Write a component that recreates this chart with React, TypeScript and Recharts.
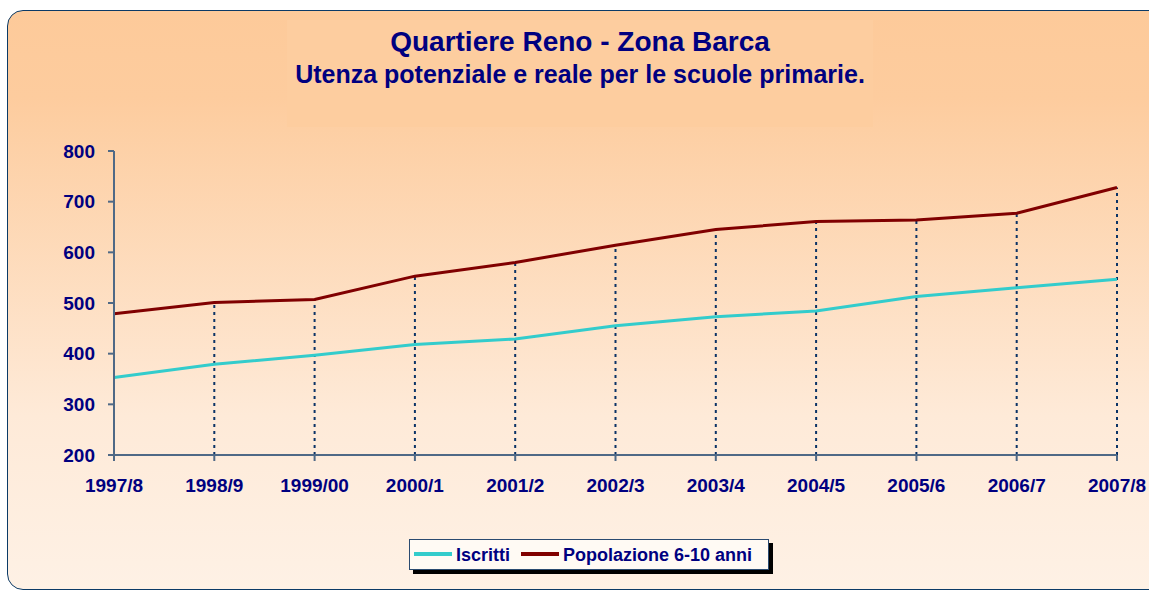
import React from 'react';
import { LineChart, Line, XAxis, YAxis, ReferenceLine } from 'recharts';

const years = ['1997/8', '1998/9', '1999/00', '2000/1', '2001/2', '2002/3', '2003/4', '2004/5', '2005/6', '2006/7', '2007/8'];
const iscritti = [353, 379, 397, 418, 429, 455, 473, 484, 513, 530, 547];
const popolazione = [479, 501, 507, 553, 580, 614, 645, 661, 664, 677, 728];
const yTicks = [200, 300, 400, 500, 600, 700, 800];

const NAVY = '#000080';
const AXIS = '#4f6986';
const FONT = "'Liberation Sans', Arial, sans-serif";

const data = years.map((year, i) => ({ year, iscritti: iscritti[i], popolazione: popolazione[i] }));

const series = [
  { key: 'iscritti', name: 'Iscritti', color: '#33CCCC' },
  { key: 'popolazione', name: 'Popolazione 6-10 anni', color: '#800000' },
];

export default function App() {
  return (
    <div style={{ position: 'fixed', left: 0, top: 0, width: 1149, height: 591, overflow: 'hidden', fontFamily: FONT, background: '#fff' }}>
      {/* rounded panel with the orange fade */}
      <div
        style={{
          position: 'absolute',
          left: 7,
          top: 10,
          width: 1180,
          height: 578,
          border: '1.5px solid #0b3a66',
          borderRadius: 16,
          background: 'linear-gradient(to bottom, #fdca9a 0%, #fdcc9e 15%, #feead8 70%, #fef1e5 100%)',
        }}
      />
      <div style={{ position: 'absolute', left: 287, top: 20, width: 586, height: 107, background: '#fdcd9f' }} />
      <div style={{ position: 'absolute', left: 287, top: 28, width: 586, textAlign: 'center', fontSize: 28, lineHeight: 1, fontWeight: 700, color: NAVY }}>
        Quartiere Reno - Zona Barca
      </div>
      <div style={{ position: 'absolute', left: 240, top: 62, width: 680, textAlign: 'center', fontSize: 25, lineHeight: 1, fontWeight: 700, color: NAVY }}>
        Utenza potenziale e reale per le scuole primarie.
      </div>

      <div style={{ position: 'absolute', left: 0, top: 0 }}>
        <LineChart width={1149} height={591} data={data} margin={{ top: 151, right: 32, bottom: 106, left: 54 }}>
          <XAxis
            dataKey="year"
            interval={0}
            height={30}
            stroke={AXIS}
            strokeWidth={2}
            tickSize={6}
            tickMargin={18}
            tick={{ fill: NAVY, fontSize: 19, fontWeight: 700, fontFamily: FONT }}
          />
          <YAxis
            domain={[200, 800]}
            ticks={yTicks}
            width={60}
            stroke={AXIS}
            strokeWidth={2}
            tickSize={6}
            tickMargin={13}
            tick={{ fill: NAVY, fontSize: 19, fontWeight: 700, fontFamily: FONT }}
          />
          {data.slice(1).map((d) => (
            <ReferenceLine
              key={`drop-${d.year}`}
              segment={[
                { x: d.year, y: 200 },
                { x: d.year, y: d.popolazione },
              ]}
              stroke="#0b3366"
              strokeWidth={2}
              strokeDasharray="3 4"
            />
          ))}
          {series.map((s) => (
            <Line
              key={s.key}
              dataKey={s.key}
              name={s.name}
              stroke={s.color}
              strokeWidth={3}
              dot={false}
              activeDot={false}
              type="linear"
              isAnimationActive={false}
            />
          ))}
        </LineChart>
      </div>

      {/* legend box */}
      <div
        style={{
          position: 'absolute',
          left: 409,
          top: 539,
          width: 358,
          height: 29,
          border: '1px solid #2a4a70',
          background: '#fffaf4',
          boxShadow: '4px 4px 0 #000',
        }}
      >
        {series.map((s, i) => (
          <React.Fragment key={`leg-${s.key}`}>
            <div style={{ position: 'absolute', left: i === 0 ? 4 : 111, top: 12, width: 38, height: 4, background: s.color }} />
            <div
              style={{
                position: 'absolute',
                left: i === 0 ? 46 : 153,
                top: 6,
                fontSize: 18,
                lineHeight: 1,
                fontWeight: 700,
                color: NAVY,
                whiteSpace: 'nowrap',
              }}
            >
              {s.name}
            </div>
          </React.Fragment>
        ))}
      </div>
    </div>
  );
}
